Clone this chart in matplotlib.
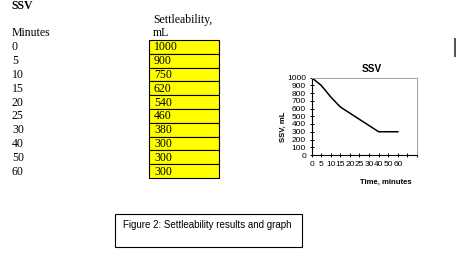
import matplotlib
matplotlib.use("Agg")
import matplotlib.pyplot as plt
from matplotlib.patches import Rectangle

minutes = [0, 5, 10, 15, 20, 25, 30, 40, 50, 60]
ssv = [1000, 900, 750, 620, 540, 460, 380, 300, 300, 300]
y_ticks = list(range(0, 1001, 100))
n_categories = 12

W, H = 474, 257
fig = plt.figure(figsize=(W / 100, H / 100), dpi=100)
fig.patch.set_facecolor("white")


def fx(x):
    return x / W


def fy(y):
    return 1 - y / H


serif = "Liberation Serif"
sans = "Liberation Sans"

# Left table
fig.text(fx(11), fy(6), "SSV", family=serif, fontsize=8.5, fontweight="bold", va="center", ha="left")
fig.text(fx(12), fy(33), "Minutes", family=serif, fontsize=8.5, va="center", ha="left")
fig.text(fx(153), fy(20), "Settleability,", family=serif, fontsize=8.5, va="center", ha="left")
fig.text(fx(153), fy(33), "mL", family=serif, fontsize=8.5, va="center", ha="left")

top, bot = 40.0, 178.0
rh = (bot - top) / len(ssv)
for i, (m, v) in enumerate(zip(minutes, ssv)):
    y0 = top + i * rh
    fig.patches.append(Rectangle((fx(149), fy(y0 + rh)), fx(219) - fx(149), fy(y0) - fy(y0 + rh),
                                 transform=fig.transFigure, facecolor="#FFFF00",
                                 edgecolor="black", linewidth=0.8))
    yc = y0 + rh / 2 + 0.5
    fig.text(fx(12), fy(yc), str(m), family=serif, fontsize=8.5, va="center", ha="left")
    fig.text(fx(154), fy(yc), str(v), family=serif, fontsize=8.5, va="center", ha="left")

# Chart
ax = fig.add_axes([fx(311.5), fy(155), fx(417) - fx(311.5), fy(77.5) - fy(155)])
xs = list(range(len(minutes)))
ax.plot(xs, ssv, color="black", linewidth=1.1)
ax.set_xlim(0, n_categories - 1)
ax.set_ylim(0, 1000)
ax.set_xticks(range(n_categories))
ax.set_xticklabels([str(m) for m in minutes] + [""] * (n_categories - len(minutes)))
ax.set_yticks(y_ticks)
ax.set_yticklabels([str(t) for t in y_ticks])
ax.tick_params(axis="both", direction="inout", length=3.5, width=0.7, labelsize=6, pad=2.3)
for lab in ax.get_xticklabels() + ax.get_yticklabels():
    lab.set_family(sans)
ax.spines["left"].set_color("black")
ax.spines["bottom"].set_color("black")
ax.spines["left"].set_linewidth(0.8)
ax.spines["bottom"].set_linewidth(0.8)
ax.spines["top"].set_color("#a0a0a0")
ax.spines["right"].set_color("#a0a0a0")
ax.spines["top"].set_linewidth(0.7)
ax.spines["right"].set_linewidth(0.7)

fig.text(fx(372), fy(69), "SSV", family=sans, fontsize=7.2, fontweight="bold", ha="center", va="center")
fig.text(fx(283.5), fy(127), "SSV, mL", family=sans, fontsize=5.6, fontweight="bold", ha="center",
         va="center", rotation=90)
fig.text(fx(385.5), fy(182), "Time, minutes", family=sans, fontsize=5.6, fontweight="bold", ha="center",
         va="center")

# Right bar
fig.patches.append(Rectangle((fx(453.5), fy(57)), fx(455.5) - fx(453.5), fy(38) - fy(57),
                             transform=fig.transFigure, facecolor="#555555", edgecolor="none"))

# Caption box
fig.patches.append(Rectangle((fx(115), fy(247)), fx(302) - fx(115), fy(214) - fy(247),
                             transform=fig.transFigure, facecolor="white", edgecolor="black",
                             linewidth=0.8))
fig.text(fx(123), fy(225), "Figure 2: Settleability results and graph", family=sans, fontsize=7,
         ha="left", va="center")

fig.savefig("out.png", dpi=100)
